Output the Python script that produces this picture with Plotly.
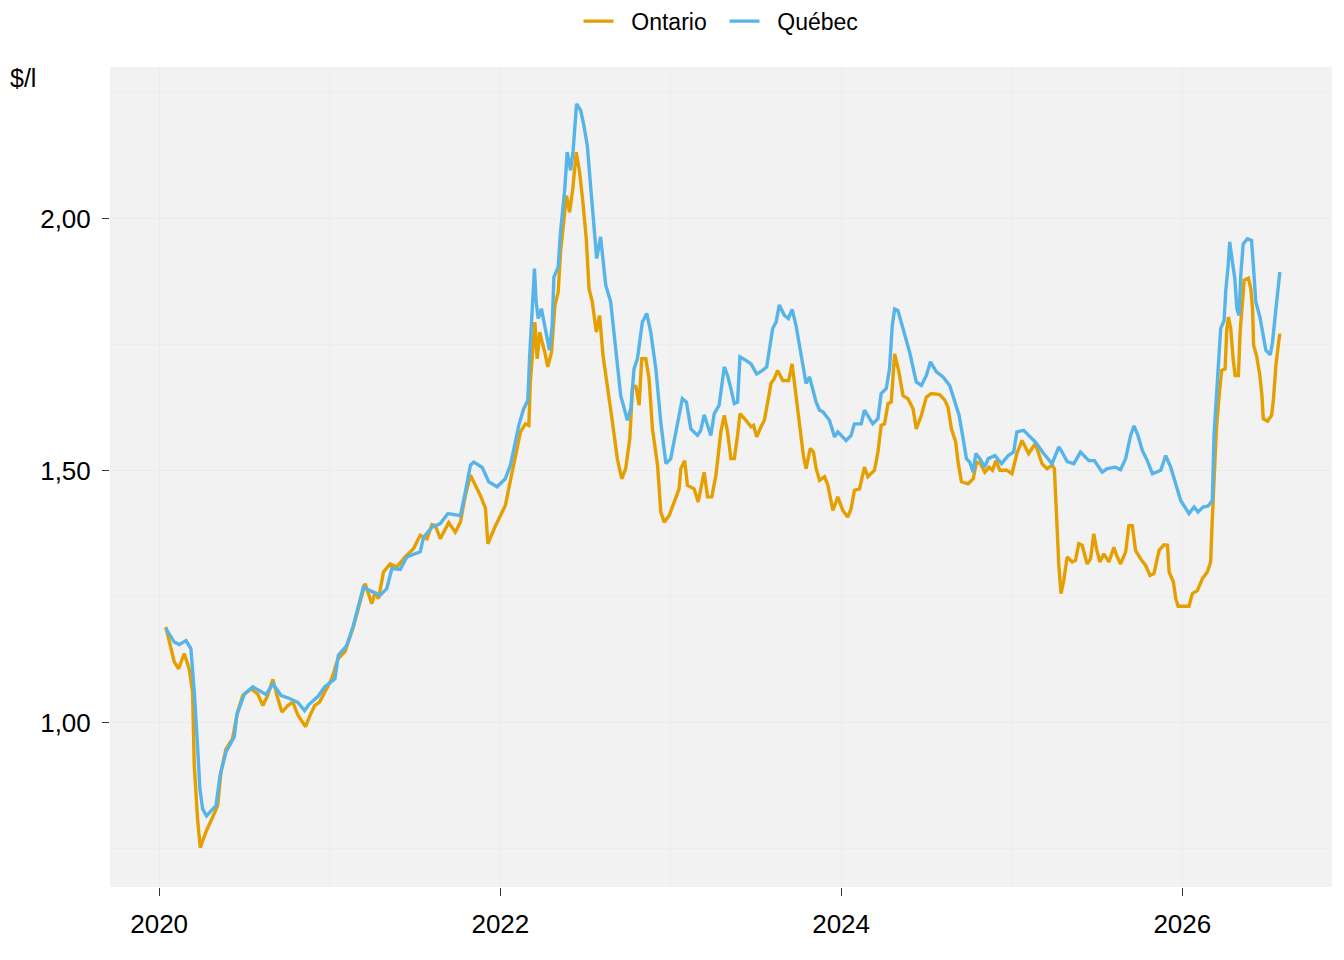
import pandas as pd
import plotly.graph_objects as go

# weekly pump prices ($ per litre); time as decimal years
ontario_t = [
    2020.039, 2020.088, 2020.114, 2020.147, 2020.176, 2020.196, 2020.206, 2020.225, 2020.241, 2020.275,
    2020.310, 2020.343, 2020.363, 2020.392, 2020.430, 2020.460, 2020.490, 2020.540, 2020.578, 2020.608,
    2020.637, 2020.667, 2020.696, 2020.720, 2020.755, 2020.784, 2020.814, 2020.859, 2020.882, 2020.912,
    2020.941, 2020.970, 2021.010, 2021.047, 2021.088, 2021.137, 2021.167, 2021.206, 2021.245, 2021.265,
    2021.284, 2021.314, 2021.353, 2021.392, 2021.441, 2021.490, 2021.529, 2021.569, 2021.598, 2021.618,
    2021.647, 2021.696, 2021.735, 2021.765, 2021.794, 2021.824, 2021.882, 2021.912, 2021.926, 2021.971,
    2022.029, 2022.069, 2022.118, 2022.147, 2022.167, 2022.176, 2022.202, 2022.216, 2022.231, 2022.245,
    2022.261, 2022.278, 2022.300, 2022.320, 2022.339, 2022.353, 2022.373, 2022.388, 2022.406, 2022.425,
    2022.445, 2022.465, 2022.484, 2022.504, 2022.520, 2022.539, 2022.563, 2022.582, 2022.602, 2022.627,
    2022.657, 2022.686, 2022.712, 2022.735, 2022.759, 2022.775, 2022.794, 2022.814, 2022.829, 2022.853,
    2022.872, 2022.892, 2022.922, 2022.941, 2022.961, 2022.990, 2023.029, 2023.049, 2023.059, 2023.082,
    2023.098, 2023.137, 2023.161, 2023.180, 2023.196, 2023.216, 2023.241, 2023.265, 2023.294, 2023.314,
    2023.333, 2023.353, 2023.373, 2023.392, 2023.406, 2023.441, 2023.471, 2023.486, 2023.504, 2023.529,
    2023.549, 2023.569, 2023.588, 2023.608, 2023.627, 2023.657, 2023.692, 2023.712, 2023.725, 2023.745,
    2023.765, 2023.778, 2023.794, 2023.818, 2023.837, 2023.853, 2023.873, 2023.902, 2023.922, 2023.951,
    2023.980, 2024.010, 2024.039, 2024.059, 2024.078, 2024.108, 2024.137, 2024.157, 2024.196, 2024.216,
    2024.235, 2024.255, 2024.275, 2024.294, 2024.314, 2024.339, 2024.363, 2024.392, 2024.422, 2024.441,
    2024.471, 2024.500, 2024.529, 2024.578, 2024.608, 2024.627, 2024.647, 2024.672, 2024.686, 2024.706,
    2024.745, 2024.775, 2024.794, 2024.818, 2024.843, 2024.869, 2024.888, 2024.908, 2024.931, 2024.971,
    2025.000, 2025.029, 2025.059, 2025.098, 2025.137, 2025.176, 2025.206, 2025.235, 2025.249, 2025.261,
    2025.275, 2025.288, 2025.304, 2025.324, 2025.353, 2025.373, 2025.392, 2025.412, 2025.441, 2025.461,
    2025.480, 2025.496, 2025.516, 2025.539, 2025.569, 2025.598, 2025.614, 2025.637, 2025.667, 2025.686,
    2025.706, 2025.725, 2025.755, 2025.784, 2025.810, 2025.833, 2025.863, 2025.892, 2025.912, 2025.922,
    2025.947, 2025.961, 2025.975, 2026.039, 2026.059, 2026.088, 2026.118, 2026.147, 2026.166, 2026.176,
    2026.186, 2026.200, 2026.216, 2026.231, 2026.251, 2026.261, 2026.271, 2026.284, 2026.298, 2026.310,
    2026.329, 2026.339, 2026.353, 2026.363, 2026.388, 2026.402, 2026.412, 2026.418, 2026.435, 2026.455,
    2026.467, 2026.475, 2026.500, 2026.524, 2026.535, 2026.549, 2026.565, 2026.572,
]
ontario = [
    1.190, 1.121, 1.107, 1.137, 1.107, 1.061, 0.915, 0.810, 0.752, 0.784,
    0.810, 0.835, 0.903, 0.948, 0.968, 1.021, 1.054, 1.067, 1.057, 1.034,
    1.054, 1.086, 1.048, 1.021, 1.034, 1.041, 1.015, 0.992, 1.012, 1.034,
    1.041, 1.061, 1.087, 1.127, 1.141, 1.190, 1.230, 1.276, 1.236, 1.259,
    1.246, 1.299, 1.315, 1.309, 1.329, 1.345, 1.372, 1.365, 1.393, 1.391,
    1.365, 1.397, 1.378, 1.398, 1.451, 1.491, 1.451, 1.425, 1.355, 1.391,
    1.431, 1.497, 1.577, 1.593, 1.590, 1.676, 1.795, 1.722, 1.775, 1.755,
    1.735, 1.706, 1.735, 1.828, 1.854, 1.934, 2.007, 2.046, 2.013, 2.060,
    2.132, 2.092, 2.033, 1.960, 1.861, 1.835, 1.775, 1.808, 1.729, 1.663,
    1.597, 1.524, 1.484, 1.504, 1.563, 1.663, 1.669, 1.630, 1.722, 1.722,
    1.683, 1.583, 1.511, 1.418, 1.398, 1.411, 1.448, 1.464, 1.504, 1.520,
    1.471, 1.464, 1.438, 1.471, 1.497, 1.448, 1.448, 1.491, 1.577, 1.610,
    1.577, 1.524, 1.524, 1.570, 1.613, 1.600, 1.587, 1.590, 1.567, 1.587,
    1.600, 1.636, 1.673, 1.683, 1.699, 1.679, 1.679, 1.712, 1.676, 1.610,
    1.557, 1.530, 1.504, 1.544, 1.537, 1.504, 1.481, 1.488, 1.471, 1.421,
    1.448, 1.421, 1.408, 1.425, 1.461, 1.464, 1.507, 1.488, 1.501, 1.537,
    1.590, 1.593, 1.633, 1.636, 1.732, 1.696, 1.649, 1.643, 1.623, 1.583,
    1.610, 1.646, 1.653, 1.651, 1.640, 1.626, 1.583, 1.557, 1.517, 1.478,
    1.474, 1.484, 1.517, 1.514, 1.497, 1.507, 1.501, 1.520, 1.501, 1.501,
    1.494, 1.534, 1.560, 1.534, 1.554, 1.514, 1.504, 1.511, 1.504, 1.411,
    1.312, 1.256, 1.282, 1.329, 1.319, 1.322, 1.355, 1.352, 1.315, 1.325,
    1.375, 1.345, 1.319, 1.335, 1.319, 1.348, 1.332, 1.315, 1.339, 1.391,
    1.391, 1.342, 1.325, 1.312, 1.292, 1.296, 1.342, 1.353, 1.352, 1.299,
    1.279, 1.246, 1.231, 1.231, 1.256, 1.262, 1.286, 1.299, 1.319, 1.405,
    1.497, 1.583, 1.649, 1.699, 1.702, 1.782, 1.805, 1.782, 1.722, 1.689,
    1.689, 1.775, 1.835, 1.878, 1.882, 1.861, 1.821, 1.749, 1.729, 1.689,
    1.649, 1.603, 1.598, 1.610, 1.643, 1.709, 1.755, 1.772,
]

quebec_t = [
    2020.039, 2020.088, 2020.118, 2020.157, 2020.186, 2020.206, 2020.225, 2020.239, 2020.255, 2020.278,
    2020.304, 2020.333, 2020.357, 2020.392, 2020.441, 2020.455, 2020.500, 2020.549, 2020.627, 2020.667,
    2020.716, 2020.765, 2020.814, 2020.853, 2020.878, 2020.931, 2020.971, 2021.029, 2021.049, 2021.098,
    2021.137, 2021.167, 2021.196, 2021.235, 2021.294, 2021.333, 2021.363, 2021.412, 2021.451, 2021.529,
    2021.549, 2021.598, 2021.647, 2021.692, 2021.765, 2021.794, 2021.824, 2021.843, 2021.892, 2021.931,
    2021.980, 2022.029, 2022.059, 2022.088, 2022.108, 2022.137, 2022.161, 2022.172, 2022.186, 2022.200,
    2022.210, 2022.222, 2022.241, 2022.265, 2022.288, 2022.304, 2022.314, 2022.339, 2022.353, 2022.378,
    2022.392, 2022.412, 2022.427, 2022.447, 2022.471, 2022.490, 2022.510, 2022.529, 2022.553, 2022.565,
    2022.588, 2022.618, 2022.647, 2022.676, 2022.706, 2022.745, 2022.765, 2022.784, 2022.804, 2022.833,
    2022.859, 2022.882, 2022.912, 2022.941, 2022.971, 2023.000, 2023.039, 2023.068, 2023.092, 2023.118,
    2023.157, 2023.176, 2023.196, 2023.216, 2023.235, 2023.255, 2023.284, 2023.314, 2023.333, 2023.353,
    2023.373, 2023.392, 2023.406, 2023.441, 2023.471, 2023.504, 2023.539, 2023.563, 2023.578, 2023.598,
    2023.618, 2023.637, 2023.667, 2023.690, 2023.712, 2023.735, 2023.755, 2023.775, 2023.794, 2023.814,
    2023.833, 2023.853, 2023.873, 2023.892, 2023.931, 2023.961, 2023.980, 2024.000, 2024.029, 2024.059,
    2024.078, 2024.118, 2024.137, 2024.186, 2024.216, 2024.235, 2024.265, 2024.284, 2024.300, 2024.314,
    2024.333, 2024.363, 2024.402, 2024.441, 2024.471, 2024.500, 2024.524, 2024.559, 2024.598, 2024.637,
    2024.667, 2024.692, 2024.716, 2024.735, 2024.755, 2024.775, 2024.790, 2024.814, 2024.843, 2024.863,
    2024.902, 2024.941, 2024.980, 2025.010, 2025.029, 2025.069, 2025.098, 2025.137, 2025.186, 2025.235,
    2025.275, 2025.294, 2025.324, 2025.363, 2025.402, 2025.451, 2025.484, 2025.529, 2025.559, 2025.608,
    2025.637, 2025.667, 2025.696, 2025.716, 2025.739, 2025.765, 2025.794, 2025.824, 2025.873, 2025.902,
    2025.931, 2025.961, 2025.990, 2026.039, 2026.069, 2026.092, 2026.122, 2026.151, 2026.176, 2026.186,
    2026.200, 2026.212, 2026.225, 2026.245, 2026.255, 2026.269, 2026.278, 2026.294, 2026.308, 2026.320,
    2026.333, 2026.343, 2026.357, 2026.382, 2026.406, 2026.418, 2026.431, 2026.455, 2026.471, 2026.490,
    2026.516, 2026.529, 2026.545, 2026.559, 2026.572,
]
quebec = [
    1.187, 1.160, 1.155, 1.163, 1.147, 1.061, 0.955, 0.869, 0.829, 0.815,
    0.825, 0.835, 0.895, 0.942, 0.972, 1.015, 1.057, 1.071, 1.056, 1.077,
    1.054, 1.048, 1.040, 1.024, 1.036, 1.052, 1.071, 1.087, 1.134, 1.153,
    1.193, 1.233, 1.269, 1.262, 1.253, 1.266, 1.306, 1.304, 1.329, 1.339,
    1.368, 1.388, 1.395, 1.415, 1.411, 1.458, 1.511, 1.517, 1.507, 1.478,
    1.468, 1.484, 1.511, 1.557, 1.590, 1.623, 1.639, 1.729, 1.808, 1.901,
    1.835, 1.802, 1.821, 1.775, 1.739, 1.788, 1.884, 1.904, 1.974, 2.060,
    2.132, 2.096, 2.136, 2.228, 2.215, 2.185, 2.145, 2.066, 1.974, 1.921,
    1.964, 1.868, 1.835, 1.742, 1.649, 1.600, 1.623, 1.702, 1.722, 1.795,
    1.812, 1.775, 1.702, 1.596, 1.514, 1.524, 1.590, 1.643, 1.636, 1.583,
    1.570, 1.580, 1.611, 1.590, 1.570, 1.613, 1.630, 1.706, 1.689, 1.663,
    1.633, 1.636, 1.726, 1.719, 1.712, 1.692, 1.699, 1.706, 1.735, 1.782,
    1.795, 1.829, 1.808, 1.802, 1.820, 1.788, 1.749, 1.709, 1.673, 1.686,
    1.663, 1.636, 1.620, 1.617, 1.600, 1.567, 1.577, 1.570, 1.560, 1.570,
    1.593, 1.593, 1.620, 1.593, 1.603, 1.653, 1.663, 1.702, 1.788, 1.821,
    1.818, 1.782, 1.735, 1.676, 1.669, 1.689, 1.716, 1.696, 1.686, 1.669,
    1.636, 1.610, 1.563, 1.524, 1.517, 1.497, 1.534, 1.524, 1.507, 1.524,
    1.530, 1.514, 1.530, 1.537, 1.577, 1.580, 1.570, 1.557, 1.534, 1.514,
    1.547, 1.537, 1.518, 1.514, 1.537, 1.520, 1.520, 1.497, 1.504, 1.507,
    1.502, 1.524, 1.570, 1.589, 1.570, 1.540, 1.520, 1.494, 1.501, 1.530,
    1.507, 1.471, 1.441, 1.415, 1.428, 1.418, 1.428, 1.430, 1.441, 1.570,
    1.649, 1.722, 1.782, 1.798, 1.858, 1.907, 1.954, 1.914, 1.881, 1.821,
    1.808, 1.888, 1.950, 1.960, 1.957, 1.901, 1.835, 1.805, 1.775, 1.739,
    1.730, 1.755, 1.808, 1.854, 1.894,
]

year_ticks = [2020, 2022, 2024, 2026]
minor_years = [2021, 2023, 2025]
price_ticks = [1.0, 1.5, 2.0]
minor_prices = [0.75, 1.25, 1.75, 2.25]


def to_date(t):
    y = int(t)
    return pd.Timestamp(y, 1, 1) + pd.Timedelta(days=(t - y) * 365.25)


pad = "\u00a0\u00a0"  # a little air between legend key and label

fig = go.Figure()
fig.add_trace(go.Scatter(x=[to_date(t) for t in ontario_t], y=ontario, mode="lines",
                         name=pad + "Ontario" + pad, line=dict(color="#E69F00", width=3.4)))
fig.add_trace(go.Scatter(x=[to_date(t) for t in quebec_t], y=quebec, mode="lines",
                         name=pad + "Québec", line=dict(color="#56B4E9", width=3.4)))

# the page body adds an 8px offset, so the figure is a bit smaller than the window
fig.update_layout(
    width=1328, height=944,
    margin=dict(l=102, r=4, t=59, b=65),
    paper_bgcolor="white", plot_bgcolor="#F2F2F2",
    font=dict(family="Liberation Sans, Arial, sans-serif", size=26, color="black"),
    separators=", ",
    showlegend=True,
    legend=dict(orientation="h", x=0.5, xanchor="center", xref="paper",
                y=0.986, yanchor="middle", yref="container", font=dict(size=23)),
    annotations=[dict(text="$/l", xref="paper", yref="paper", x=-0.0835, y=0.987,
                      xanchor="left", yanchor="middle", showarrow=False,
                      font=dict(size=25, color="black"))],
)
fig.update_xaxes(
    range=[to_date(2019.711), to_date(2026.878)],
    tickvals=[to_date(y) for y in year_ticks], ticktext=[str(y) for y in year_ticks],
    showgrid=True, gridcolor="#EBEBEB", gridwidth=1.4,
    minor=dict(tickvals=[to_date(y) for y in minor_years], showgrid=True,
               gridcolor="#EDEDED", gridwidth=0.9, ticks=""),
    ticks="outside", ticklen=8, tickwidth=1.2, tickcolor="#333333",
    ticklabelstandoff=6, zeroline=False, showline=False,
)
fig.update_yaxes(
    range=[0.674, 2.301],
    tickvals=price_ticks, tickformat=".2f",
    showgrid=True, gridcolor="#EBEBEB", gridwidth=1.4,
    minor=dict(tickvals=minor_prices, showgrid=True,
               gridcolor="#EDEDED", gridwidth=0.9, ticks=""),
    ticks="outside", ticklen=7, tickwidth=1.2, tickcolor="#333333",
    ticklabelstandoff=6, zeroline=False, showline=False,
)

fig.write_html("out.html")
